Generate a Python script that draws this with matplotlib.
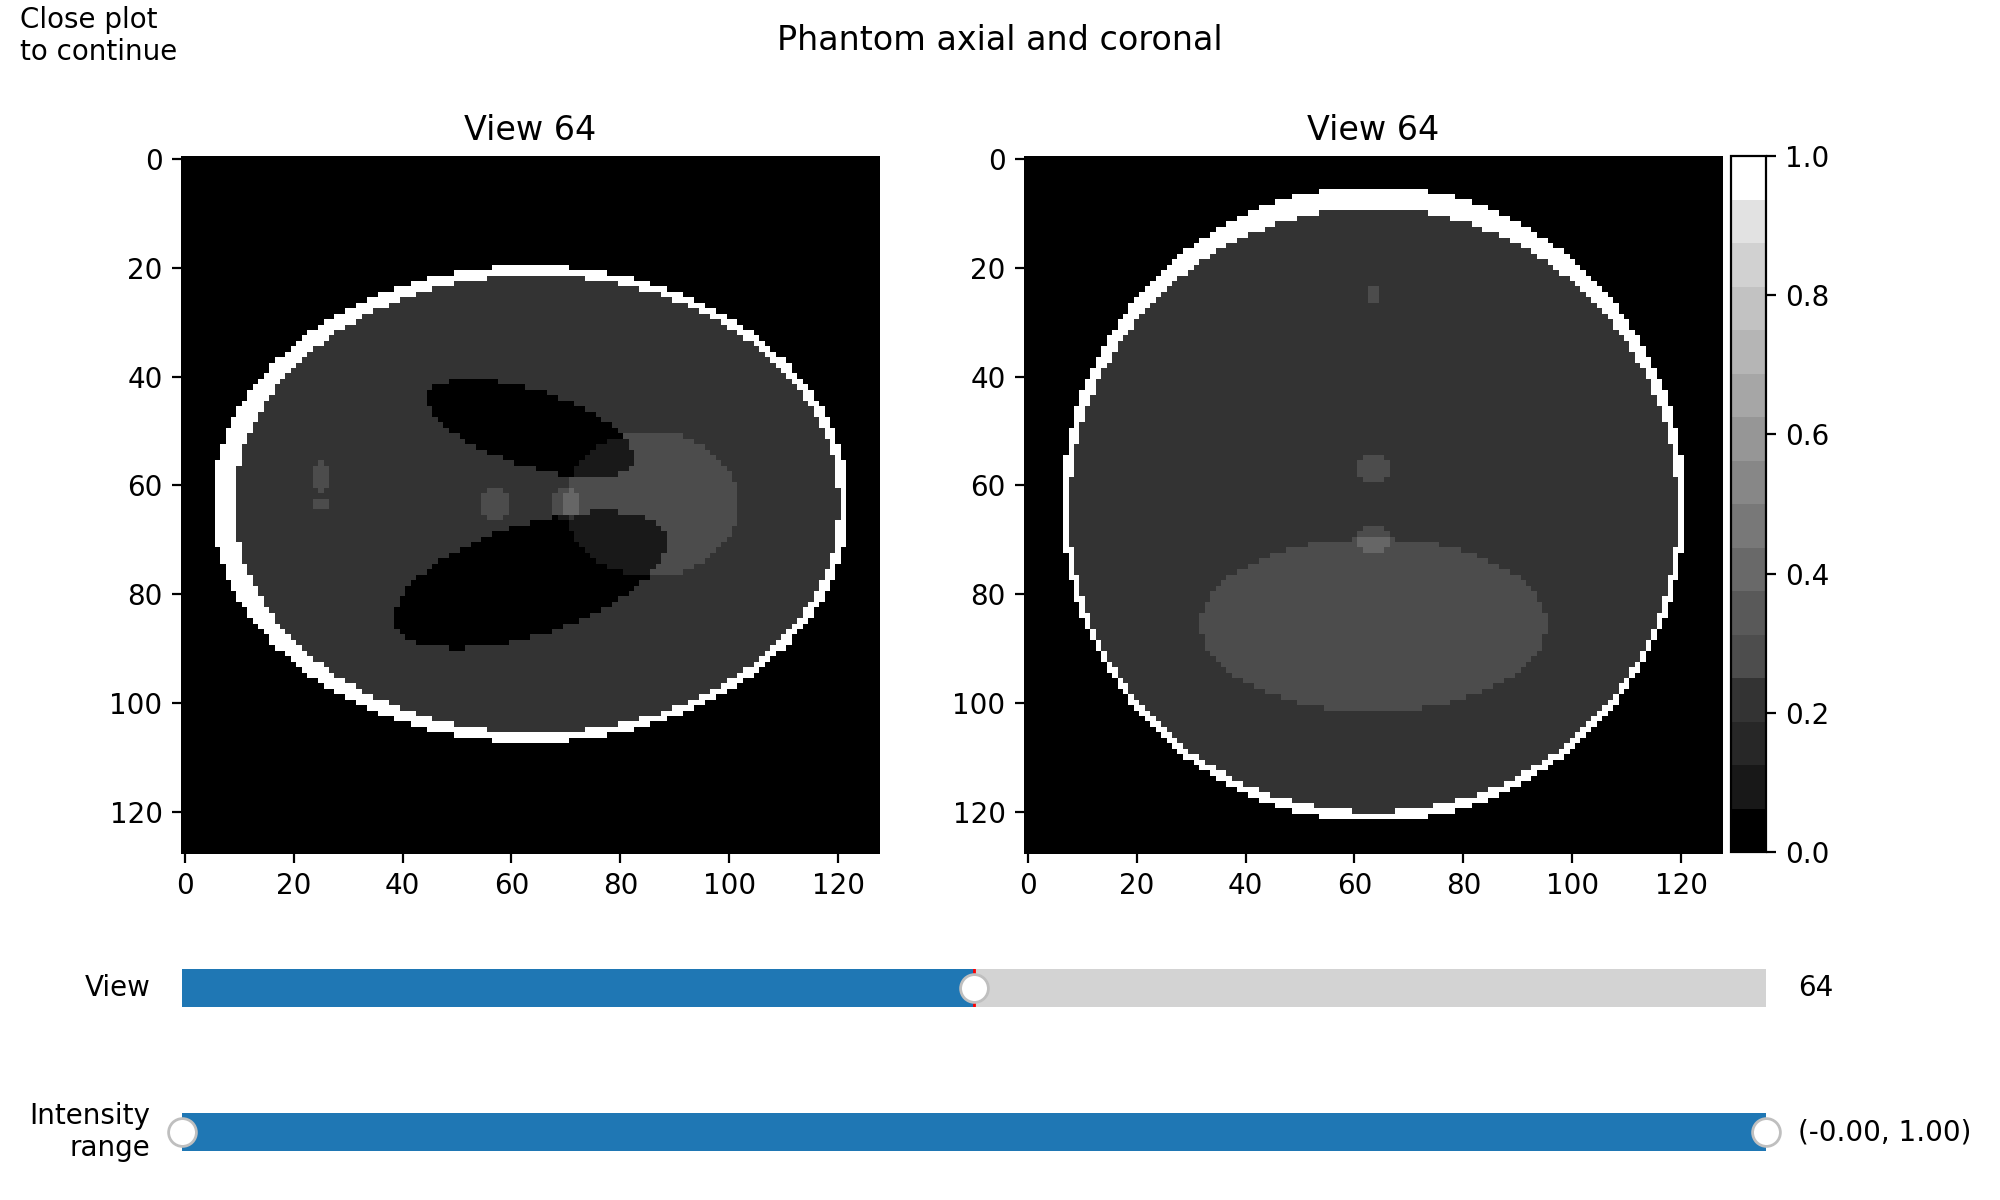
import numpy as np
import matplotlib
matplotlib.use('Agg')
import matplotlib.pyplot as plt
from matplotlib.cm import ScalarMappable
from matplotlib.colors import Normalize, ListedColormap
from matplotlib.widgets import Slider, RangeSlider

# Ellipses read from the two views: gain, centre (u, v), semi-axes (u, v), tilt in degrees
AXIAL_GAIN = [1.0, -0.8, -0.2, -0.2, 0.1, 0.1, 0.1, 0.1, 0.1]
AXIAL_U0 = [0.0, 0.0184, 0.0, 0.0, 0.35, -0.1024, 0.1024, -0.606, -0.606]
AXIAL_V0 = [0.0, 0.0, -0.22, 0.22, 0.0, 0.0, 0.0, -0.0787, 0.0]
AXIAL_SU = [0.92, 0.874, 0.31, 0.41, 0.25, 0.046, 0.046, 0.023, 0.023]
AXIAL_SV = [0.69, 0.6624, 0.11, 0.16, 0.21, 0.046, 0.046, 0.046, 0.023]
AXIAL_TILT = [0, 0, 18, -18, 0, 0, 0, 0, 0]

CORONAL_GAIN = [1.0, -0.8, 0.1, 0.1, 0.1, 0.1]
CORONAL_U0 = [0.0, 0.0, 0.0, 0.0, 0.0, 0.0]
CORONAL_V0 = [0.0, 0.0184, 0.35, -0.1024, 0.1024, -0.606]
CORONAL_SU = [0.9, 0.88, 0.5, 0.05, 0.05, 0.023]
CORONAL_SV = [0.92, 0.874, 0.25, 0.046, 0.046, 0.023]
CORONAL_TILT = [0, 0, 0, 0, 0, 0]

GRID_SIZE = 128
AXIS_TICKS = [0, 20, 40, 60, 80, 100, 120]
CBAR_TICKS = [0.0, 0.2, 0.4, 0.6, 0.8, 1.0]
# Grey of each colour-bar band, bottom to top
CBAR_GREYS = [0.0, 0.094, 0.153, 0.2, 0.3, 0.35, 0.41, 0.47, 0.53, 0.59, 0.65, 0.71, 0.76, 0.82, 0.886, 1.0]
VIEW_INDEX = 64
VIEW_MAX = 128
INTENSITY_RANGE = (0.0, 1.0)
INTENSITY_TEXT = '(-0.00, 1.00)'
SUPTITLE = 'Phantom axial and coronal'
CORNER_NOTE = 'Close plot\nto continue'

W, H = 2000, 1200


def rect(x0, y0, x1, y1):
    return [x0 / W, 1 - y1 / H, (x1 - x0) / W, (y1 - y0) / H]


def raster(gain, u0, v0, su, sv, tilt):
    c = (GRID_SIZE - 1) / 2
    v, u = np.mgrid[0:GRID_SIZE, 0:GRID_SIZE]
    u = (u - c) / c
    v = (v - c) / c
    out = np.zeros((GRID_SIZE, GRID_SIZE))
    for g, a, b, p, q, t in zip(gain, u0, v0, su, sv, tilt):
        th = np.deg2rad(t)
        du, dv = u - a, v - b
        x = du * np.cos(th) + dv * np.sin(th)
        y = -du * np.sin(th) + dv * np.cos(th)
        out[(x / p) ** 2 + (y / q) ** 2 <= 1] += g
    return np.clip(out, 0, 1)


fig = plt.figure(figsize=(10, 6), dpi=200)
fig.suptitle(SUPTITLE, fontsize=12, x=0.5, y=0.966, va='center')
fig.text(20 / W, 1 - 6 / H, CORNER_NOTE, fontsize=10, va='top', ha='left')

images = [raster(AXIAL_GAIN, AXIAL_U0, AXIAL_V0, AXIAL_SU, AXIAL_SV, AXIAL_TILT),
          raster(CORONAL_GAIN, CORONAL_U0, CORONAL_V0, CORONAL_SU, CORONAL_SV, CORONAL_TILT)]
lefts = [182, 1025]
for img, x0 in zip(images, lefts):
    ax = fig.add_axes(rect(x0, 156.5, x0 + 697, 852.5))
    ax.imshow(img, cmap='gray', vmin=0, vmax=1, interpolation='nearest', aspect='auto')
    ax.set_xticks(AXIS_TICKS)
    ax.set_yticks(AXIS_TICKS)
    ax.set_title(f'View {VIEW_INDEX}', fontsize=12)
    for spine in ax.spines.values():
        spine.set_linewidth(0.72)

cax = fig.add_axes(rect(1731, 156, 1766, 852))
cb = fig.colorbar(ScalarMappable(norm=Normalize(0, 1),
                                 cmap=ListedColormap([(g, g, g) for g in CBAR_GREYS])), cax=cax)
cb.set_ticks(CBAR_TICKS)

ax_view = fig.add_axes(rect(182, 950, 1766, 1026))
view_slider = Slider(ax_view, 'View', 0, VIEW_MAX, valinit=VIEW_INDEX, valfmt='%d')
ax_range = fig.add_axes(rect(182, 1094, 1766, 1170))
range_slider = RangeSlider(ax_range, 'Intensity\nrange', INTENSITY_RANGE[0], INTENSITY_RANGE[1],
                           valinit=INTENSITY_RANGE)
range_slider.valtext.set_text(INTENSITY_TEXT)

fig.savefig('out.png', dpi=200)
